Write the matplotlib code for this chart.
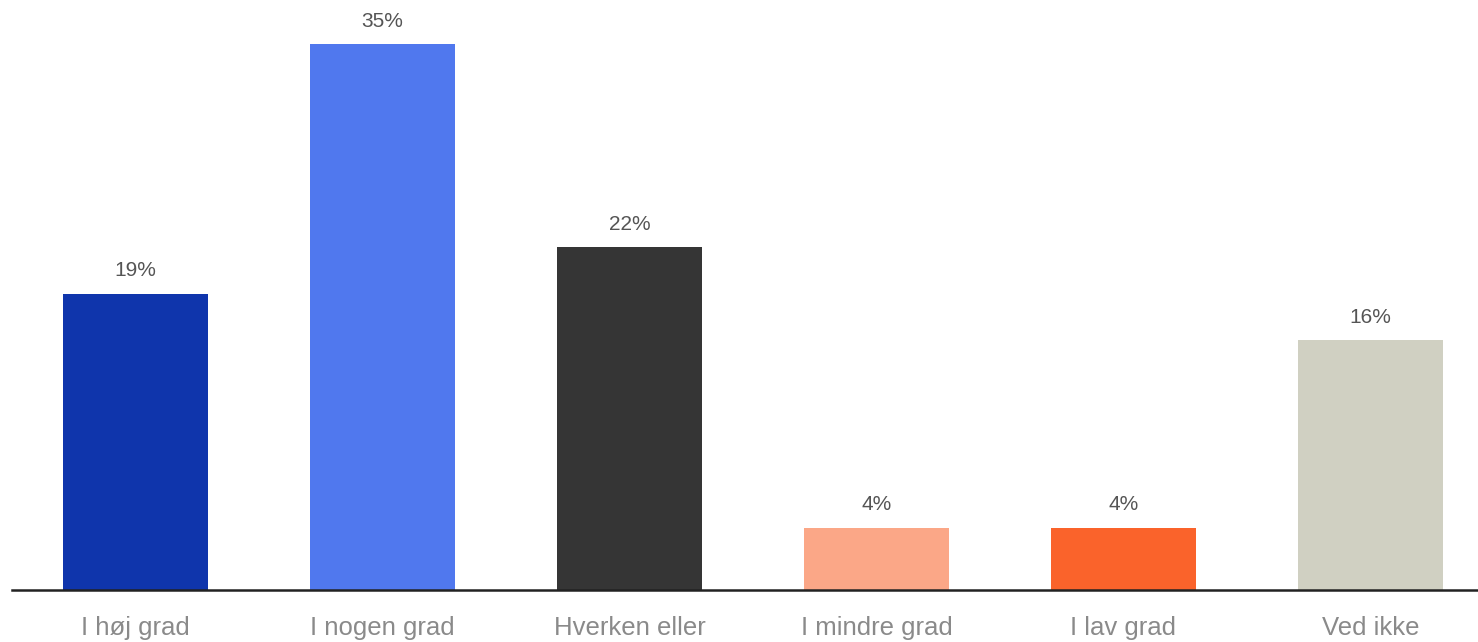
import numpy as np
import matplotlib
matplotlib.use("Agg")
import matplotlib.pyplot as plt

plt.rcParams['font.family'] = ['Liberation Sans', 'DejaVu Sans']

# data
categories = ["I høj grad", "I nogen grad", "Hverken eller", "I mindre grad", "I lav grad", "Ved ikke"]
values = [19, 35, 22, 4, 4, 16]
colors = ["#0F35AC", "#5078EE", "#353535", "#FBA787", "#FA632B", "#D0D0C2"]

fig = plt.figure(figsize=(14.78, 6.42), dpi=100)
ax = fig.add_axes([12 / 1478, 52 / 642, 1 - 12 / 1478, 590 / 642])

x = np.arange(len(categories))
bars = ax.bar(x, values, width=0.587, color=colors)

for b, v in zip(bars, values):
    ax.annotate(f"{v}%", (b.get_x() + b.get_width() / 2, v),
                xytext=(0, 9.5), textcoords="offset points",
                ha="center", va="bottom", fontsize=15, color="#555555")

ax.set_xlim(-0.5, (1478 - 135.5) / 247)
ax.set_ylim(0, 35 * 590 / 546)
ax.set_xticks(x)
ax.set_xticklabels(categories, fontsize=18.5, color="#8a8a8a")
ax.tick_params(axis="x", length=0, pad=19)
ax.set_yticks([])
for s in ["top", "right", "left"]:
    ax.spines[s].set_visible(False)
ax.spines["bottom"].set_color("#222222")
ax.spines["bottom"].set_linewidth(1.8)

fig.savefig("out.png", dpi=100)
